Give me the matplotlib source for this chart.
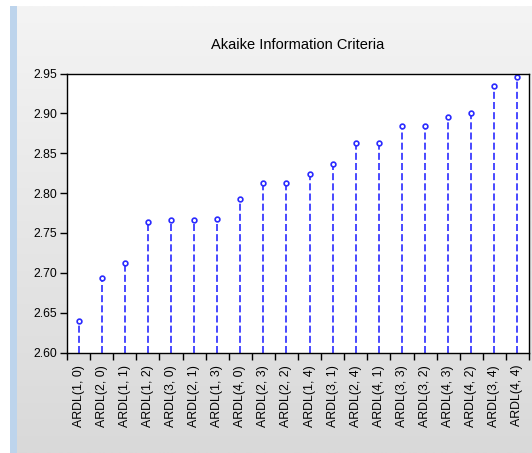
import numpy as np
import matplotlib
matplotlib.use("Agg")
import matplotlib.pyplot as plt
from matplotlib.patches import Rectangle

plt.rcParams["font.family"] = ["Liberation Sans", "DejaVu Sans"]

# Akaike information criterion for each ARDL(p, q) specification, best first
models = ["ARDL(1, 0)", "ARDL(2, 0)", "ARDL(1, 1)", "ARDL(1, 2)", "ARDL(3, 0)",
          "ARDL(2, 1)", "ARDL(1, 3)", "ARDL(4, 0)", "ARDL(2, 3)", "ARDL(2, 2)",
          "ARDL(1, 4)", "ARDL(3, 1)", "ARDL(2, 4)", "ARDL(4, 1)", "ARDL(3, 3)",
          "ARDL(3, 2)", "ARDL(4, 3)", "ARDL(4, 2)", "ARDL(3, 4)", "ARDL(4, 4)"]
aic = [2.640, 2.694, 2.712, 2.764, 2.766,
       2.766, 2.767, 2.793, 2.813, 2.813,
       2.824, 2.837, 2.863, 2.863, 2.884,
       2.884, 2.896, 2.900, 2.934, 2.946]
yticks = [2.60, 2.65, 2.70, 2.75, 2.80, 2.85, 2.90, 2.95]

W, H = 532, 453
fig = plt.figure(figsize=(W / 100, H / 100), dpi=100)
fig.patch.set_facecolor("white")

# grey panel with a soft vertical gradient, plus the blue strip at the left
bg = fig.add_axes([17 / W, 0, 1 - 17 / W, 1 - 6 / H], zorder=-10)
grad = np.linspace(0, 1, 256)[:, None]
bg.imshow(grad, aspect="auto", cmap=matplotlib.colors.LinearSegmentedColormap.from_list(
    "panel", ["#f4f4f4", "#d9d9d9"]), extent=[0, 1, 0, 1], origin="upper")
bg.set_axis_off()
fig.patches.append(Rectangle((10 / W, 0), 7 / W, 1 - 6 / H, transform=fig.transFigure,
                             facecolor="#bdd4ec", edgecolor="none", zorder=-5))

ax = fig.add_axes([67 / W, 100.5 / H, 462 / W, 279 / H])
ax.set_facecolor("white")

x = np.arange(len(models))
blue = "#2a2aff"
ax.vlines(x, 2.60, aic, colors=blue, linewidth=1.2, linestyles=(0, (4.2, 1.9)))
ax.plot(x, aic, linestyle="none", marker="o", markersize=3.4,
        markerfacecolor="white", markeredgecolor=blue, markeredgewidth=1.2)

ax.set_xlim(-0.5, len(models) - 0.5)
ax.set_ylim(2.60, 2.95)
ax.set_yticks(yticks)
ax.set_yticklabels([f"{v:.2f}" for v in yticks])
ax.set_xticks(x)
ax.set_xticklabels(models, rotation=90, va="top")
ax.set_xticks(np.arange(len(models) + 1) - 0.5, minor=True)
ax.tick_params(axis="x", which="major", length=0, pad=9, labelsize=8.9)
ax.tick_params(axis="x", which="minor", length=5, width=1.0, direction="out")
ax.tick_params(axis="y", length=5, width=1.0, direction="out", labelsize=8.7, pad=2)
for s in ax.spines.values():
    s.set_linewidth(1.0)
    s.set_color("black")

fig.text(298 / W, 1 - 45 / H, "Akaike Information Criteria", ha="center", va="center",
         fontsize=10.5)

fig.savefig("out.png", dpi=100)
